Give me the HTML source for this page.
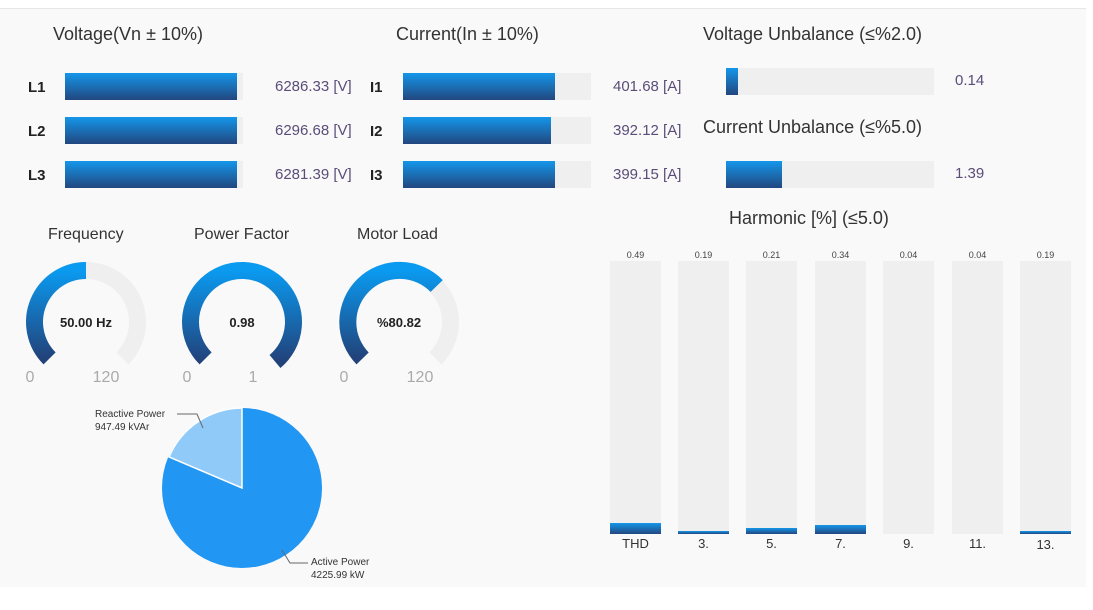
<!DOCTYPE html>
<html><head><meta charset="utf-8"><style>
body{margin:0;width:1093px;height:610px;background:#fff;position:relative;overflow:hidden;font-family:"Liberation Sans",sans-serif}
.p{position:absolute;left:0;top:8px;width:1086px;height:578px;background:#f9f9f9;border-top:1px solid #e6e6e6}
.a{position:absolute;white-space:nowrap}
.t{font-size:18px;color:#333}
.lab{font-size:15px;font-weight:bold;color:#222}
.v{font-size:15px;color:#5a4d78}
.tr{position:absolute;background:#efefef}
.f{position:absolute;left:0;top:0;bottom:0;background:linear-gradient(#1496ea,#22477f)}
.hv{font-size:9px;color:#444;width:51px;text-align:center}
.hl{font-size:13px;color:#333;width:51px;text-align:center}
</style></head><body>
<div class="p"></div>
<div class="a t" style="left:53px;top:24px">Voltage(Vn ± 10%)</div>
<div class="a t" style="left:396px;top:24px">Current(In ± 10%)</div>
<div class="a t" style="left:703px;top:24px">Voltage Unbalance (≤%2.0)</div>
<div class="a t" style="left:703px;top:117px">Current Unbalance (≤%5.0)</div>
<div class="a t" style="left:729px;top:208px">Harmonic [%] (≤5.0)</div>

<div class="a lab" style="left:28px;top:79px">L1</div>
<div class="a lab" style="left:28px;top:123px">L2</div>
<div class="a lab" style="left:28px;top:167px">L3</div>
<div class="tr" style="left:65px;top:73px;width:178px;height:27px"><div class="f" style="width:172px"></div></div>
<div class="tr" style="left:65px;top:117px;width:178px;height:27px"><div class="f" style="width:172px"></div></div>
<div class="tr" style="left:65px;top:161px;width:178px;height:27px"><div class="f" style="width:172px"></div></div>
<div class="a v" style="left:275px;top:78px">6286.33 [V]</div>
<div class="a v" style="left:275px;top:122px">6296.68 [V]</div>
<div class="a v" style="left:275px;top:166px">6281.39 [V]</div>

<div class="a lab" style="left:370px;top:79px">I1</div>
<div class="a lab" style="left:370px;top:123px">I2</div>
<div class="a lab" style="left:370px;top:167px">I3</div>
<div class="tr" style="left:403px;top:73px;width:188px;height:27px"><div class="f" style="width:152px"></div></div>
<div class="tr" style="left:403px;top:117px;width:188px;height:27px"><div class="f" style="width:148px"></div></div>
<div class="tr" style="left:403px;top:161px;width:188px;height:27px"><div class="f" style="width:152px"></div></div>
<div class="a v" style="left:613px;top:78px">401.68 [A]</div>
<div class="a v" style="left:613px;top:122px">392.12 [A]</div>
<div class="a v" style="left:613px;top:166px">399.15 [A]</div>

<div class="tr" style="left:726px;top:68px;width:208px;height:27px"><div class="f" style="width:12px"></div></div>
<div class="tr" style="left:726px;top:161px;width:208px;height:27px"><div class="f" style="width:56px"></div></div>
<div class="a v" style="left:955px;top:72px">0.14</div>
<div class="a v" style="left:955px;top:165px">1.39</div>

<!-- harmonics -->
<div class="tr" style="left:610px;top:261px;width:51px;height:273px"><div class="f" style="top:auto;height:11px;width:51px"></div></div>
<div class="tr" style="left:678px;top:261px;width:51px;height:273px"><div class="f" style="top:auto;height:3px;width:51px"></div></div>
<div class="tr" style="left:746px;top:261px;width:51px;height:273px"><div class="f" style="top:auto;height:6px;width:51px"></div></div>
<div class="tr" style="left:815px;top:261px;width:51px;height:273px"><div class="f" style="top:auto;height:9px;width:51px"></div></div>
<div class="tr" style="left:883px;top:261px;width:51px;height:273px"></div>
<div class="tr" style="left:952px;top:261px;width:51px;height:273px"></div>
<div class="tr" style="left:1020px;top:261px;width:51px;height:273px"><div class="f" style="top:auto;height:3px;width:51px"></div></div>
<div class="a hv" style="left:610px;top:250px">0.49</div>
<div class="a hv" style="left:678px;top:250px">0.19</div>
<div class="a hv" style="left:746px;top:250px">0.21</div>
<div class="a hv" style="left:815px;top:250px">0.34</div>
<div class="a hv" style="left:883px;top:250px">0.04</div>
<div class="a hv" style="left:952px;top:250px">0.04</div>
<div class="a hv" style="left:1020px;top:250px">0.19</div>
<div class="a hl" style="left:610px;top:536px">THD</div>
<div class="a hl" style="left:678px;top:536px">3.</div>
<div class="a hl" style="left:746px;top:536px">5.</div>
<div class="a hl" style="left:815px;top:536px">7.</div>
<div class="a hl" style="left:883px;top:536px">9.</div>
<div class="a hl" style="left:952px;top:536px">11.</div>
<div class="a hl" style="left:1020px;top:537px">13.</div>

<div class="a" style="left:48px;top:226px;font-size:16px;color:#333">Frequency</div>
<div class="a" style="left:194px;top:226px;font-size:16px;color:#333">Power Factor</div>
<div class="a" style="left:357px;top:226px;font-size:16px;color:#333">Motor Load</div>

<svg class="a" style="left:0;top:0" width="1093" height="610">
<defs><linearGradient id="g" x1="0" y1="0" x2="0" y2="1"><stop offset="0" stop-color="#0a9af0"/><stop offset="1" stop-color="#22427a"/></linearGradient></defs>
<g fill="none" stroke-width="17">
<!-- radius 51.5 center arcs -->
<path d="M49.6 358.4 A51.5 51.5 0 1 1 122.4 358.4" stroke="#efefef"/>
<path d="M49.6 358.4 A51.5 51.5 0 0 1 86 270.5" stroke="url(#g)"/>
<path d="M205.6 358.4 A51.5 51.5 0 1 1 278.4 358.4" stroke="#efefef"/>
<path d="M205.6 358.4 A51.5 51.5 0 1 1 275 361.5" stroke="url(#g)"/>
<path d="M362.6 358.4 A51.5 51.5 0 1 1 435.4 358.4" stroke="#efefef"/>
<path d="M362.6 358.4 A51.5 51.5 0 1 1 436.7 286" stroke="url(#g)"/>
</g>
<g font-size="13" font-weight="bold" fill="#222" text-anchor="middle">
<text x="86" y="327">50.00 Hz</text><text x="242" y="327">0.98</text><text x="399" y="327">%80.82</text></g>
<g font-size="16" fill="#aaa" text-anchor="middle">
<text x="30" y="382">0</text><text x="106" y="382">120</text>
<text x="187" y="382">0</text><text x="253" y="382">1</text>
<text x="344" y="382">0</text><text x="420" y="382">120</text></g>
<circle cx="242" cy="488" r="80" fill="#2196f3"/>
<path d="M242 488 L242 408 A80 80 0 0 0 169 457 Z" fill="#90caf9" stroke="#fff" stroke-width="1.5"/>
<g stroke="#666" fill="none" stroke-width="1"><path d="M177 414 H197 L203 428"/><path d="M282 550 L290 563 H308"/></g>
<g font-size="10" fill="#333"><text x="95" y="417">Reactive Power</text><text x="95" y="430">947.49 kVAr</text>
<text x="311" y="565">Active Power</text><text x="311" y="578">4225.99 kW</text></g>
</svg>
</body></html>
